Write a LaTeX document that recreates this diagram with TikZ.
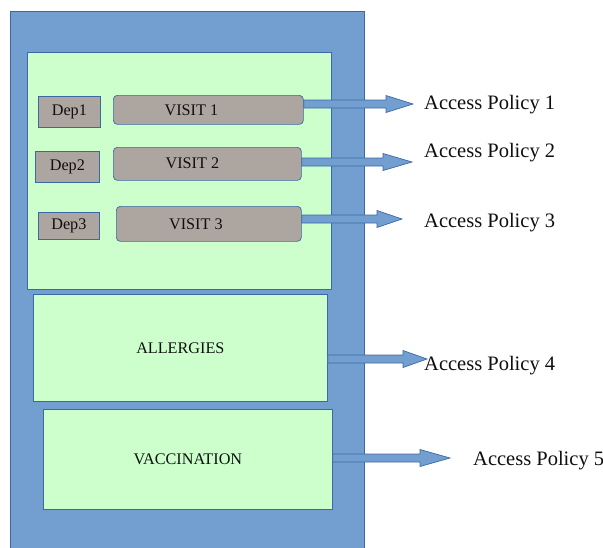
\documentclass[tikz,border=0pt]{standalone}
\usepackage{fontspec}
\setmainfont{Liberation Serif}
\usetikzlibrary{calc}

\definecolor{panelblue}{RGB}{114,159,207}
\definecolor{edgeblue}{RGB}{60,105,165}
\definecolor{paleleaf}{RGB}{204,255,204}
\definecolor{stone}{RGB}{173,166,160}
\definecolor{ink}{RGB}{15,15,15}

\tikzset{
  box/.style={draw=edgeblue, line width=0.7pt, anchor=north west, inner sep=0pt,
    text=ink, font=\fontsize{16.2}{19}\selectfont},
  panel/.style={box, fill=panelblue},
  section/.style={box, fill=paleleaf},
  depbox/.style={box, fill=stone},
  visitbox/.style={box, fill=stone, rounded corners=4pt},
  visitlabel/.style={font=\fontsize{16.2}{19}\selectfont, text=ink},
  policy/.style={anchor=west, inner sep=0pt, text=ink, font=\fontsize{20.5}{24}\selectfont},
  blockarrowstyle/.style={draw=edgeblue, fill=panelblue, line width=0.7pt, line join=miter}
}

% block arrow: #1 start, #2 tip, #3 head length
\newcommand\blockarrow[3]{%
  \path[blockarrowstyle] let \p1=(#1), \p2=(#2) in
    (\x1,\y2+4pt) -- (\x2-#3pt,\y2+4pt) -- (\x2-#3pt,\y2+8.5pt) -- (\x2,\y2)
    -- (\x2-#3pt,\y2-8.5pt) -- (\x2-#3pt,\y2-4pt) -- (\x1,\y2-4pt) -- cycle;}

\begin{document}
\begin{tikzpicture}[x=1pt,y=-1pt]
  \useasboundingbox (0,0) rectangle (603,547);
  \clip (0,0) rectangle (603,547);

  % outer record
  \node[panel, minimum width=354pt, minimum height=550pt] (outer) at (10,11) {};

  % sections
  \node[section, minimum width=304pt, minimum height=237pt] (visits) at (27,52) {};
  \node[section, minimum width=294pt, minimum height=107pt] (allergies) at (33,294) {ALLERGIES};
  \node[section, minimum width=289pt, minimum height=100pt] (vacc) at (43,409) {VACCINATION};

  % departments
  \node[depbox, minimum width=62pt, minimum height=31pt] (dep1) at (38,96) {Dep1};
  \node[depbox, minimum width=64pt, minimum height=31pt] (dep2) at (35,151) {Dep2};
  \node[depbox, minimum width=61pt, minimum height=27pt] (dep3) at (38,212) {Dep3};

  % visits
  \node[visitbox, minimum width=190pt, minimum height=29pt,
        label={[xshift=-17pt, visitlabel]center:VISIT 1}] (v1) at (113,95) {};
  \node[visitbox, minimum width=188pt, minimum height=33pt,
        label={[xshift=-15pt, yshift=1pt, visitlabel]center:VISIT 2}] (v2) at (113,147) {};
  \node[visitbox, minimum width=185pt, minimum height=35pt,
        label={[xshift=-13pt, visitlabel]center:VISIT 3}] (v3) at (116,206) {};

  % arrow tips
  \coordinate (t1) at (413,104);
  \coordinate (t2) at (412,162);
  \coordinate (t3) at (402,219);
  \coordinate (t4) at (427,359);
  \coordinate (t5) at (450,458);

  % policies
  \node[policy] (p1) at (424,105) {Access Policy 1};
  \node[policy] (p2) at (424,153) {Access Policy 2};
  \node[policy] (p3) at (424,223) {Access Policy 3};

  \blockarrow{v1.east |- t1}{t1}{27}
  \blockarrow{v2.east |- t2}{t2}{29}
  \blockarrow{v3.east |- t3}{t3}{25}
  \blockarrow{allergies.east |- t4}{t4}{24}
  \blockarrow{vacc.east |- t5}{t5}{30}

  \node[policy] (p4) at (424,366) {Access Policy 4};
  \node[policy] (p5) at (473,461) {Access Policy 5};
\end{tikzpicture}
\end{document}
